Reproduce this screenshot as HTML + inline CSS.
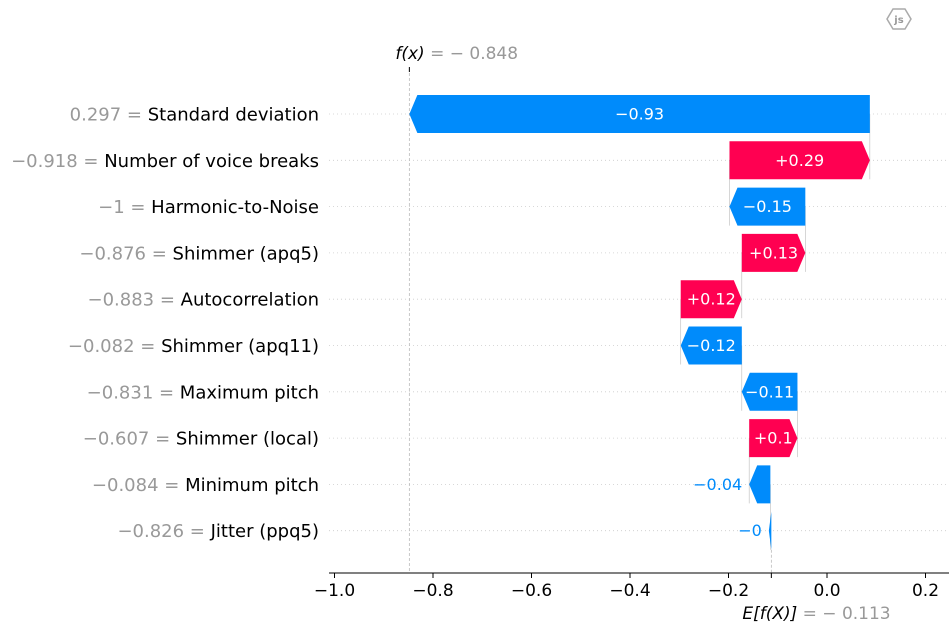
<!DOCTYPE html>
<html><head><meta charset="utf-8"><style>
html,body{margin:0;padding:0;background:#fff;}
svg{display:block;font-family:"DejaVu Sans","Liberation Sans",sans-serif;}
</style></head><body>
<svg id="chart" width="949" height="636" viewBox="0 0 949 636" xmlns="http://www.w3.org/2000/svg">
<g>
<polygon points="893,9 905,9 911,19 905,29 893,29 887,19" fill="none" stroke="#aaa" stroke-width="1.5"/>
<text x="899" y="23" text-anchor="middle" font-size="10" fill="#999" font-weight="bold">js</text>
</g>
<g id="grid"></g>
<g id="connectors"></g>
<g id="bars"></g>
<g id="ylabels"></g>
<g id="xaxis"></g>
</svg>
<script>
const featureNames = ["Standard deviation","Number of voice breaks","Harmonic-to-Noise","Shimmer (apq5)","Autocorrelation","Shimmer (apq11)","Maximum pitch","Shimmer (local)","Minimum pitch","Jitter (ppq5)"];
const featureValues = ["0.297","\u22120.918","\u22121","\u22120.876","\u22120.883","\u22120.082","\u22120.831","\u22120.607","\u22120.084","\u22120.826"];
const shapValues = [-0.935,0.285,-0.154,0.129,0.124,-0.124,-0.113,0.098,-0.043,-0.002];
const valueLabels = ["\u22120.93","+0.29","\u22120.15","+0.13","+0.12","\u22120.12","\u22120.11","+0.1","\u22120.04","\u22120"];
const baseValue = -0.113;
const fxValue = -0.848;
const xTicks = [-1.0,-0.8,-0.6,-0.4,-0.2,0.0,0.2];
const xTickLabels = ["\u22121.0","\u22120.8","\u22120.6","\u22120.4","\u22120.2","0.0","0.2"];

const NS="http://www.w3.org/2000/svg";
const X0=827, SCALE=492.5;
function xs(v){return X0+v*SCALE;}
const ROW0=114, ROWSTEP=46.3, BARH=38;
function ys(i){return ROW0+i*ROWSTEP;}
function mk(tag,attrs,parent){const e=document.createElementNS(NS,tag);for(const k in attrs)e.setAttribute(k,attrs[k]);parent.appendChild(e);return e;}
const BLUE="#008bfb", RED="#ff0051";
const grid=document.getElementById('grid'), conn=document.getElementById('connectors'), bars=document.getElementById('bars'), yl=document.getElementById('ylabels'), xa=document.getElementById('xaxis');
const n=featureNames.length;
const starts=new Array(n), ends=new Array(n);
let cur=baseValue;
for(let i=n-1;i>=0;i--){starts[i]=cur;cur+=shapValues[i];ends[i]=cur;}
for(let i=0;i<n;i++){
  const y=ys(i);
  const gl=mk('line',{x1:329,x2:949,y1:y,y2:y,stroke:'#ccc','stroke-width':0.8,'stroke-dasharray':'1,3'},grid);
  
  
  if(i<n-1){
    const cl=mk('line',{x1:xs(starts[i]),x2:xs(starts[i]),y1:y,y2:ys(i+1)+BARH/2,stroke:'#bbb','stroke-width':0.6},conn);
    
    
  }
  const a=xs(starts[i]);
  let b=xs(ends[i]);
  if(Math.abs(b-a)<2.5) b=a+(shapValues[i]<0?-2.5:2.5);
  const w=Math.abs(b-a), h=Math.min(8,w), t=y-BARH/2, bt=y+BARH/2;
  let pts;
  if(shapValues[i]<0) pts=[[a,t],[b+h,t],[b,y],[b+h,bt],[a,bt]];
  else pts=[[a,t],[b-h,t],[b,y],[b-h,bt],[a,bt]];
  const col=shapValues[i]<0?BLUE:RED;
  const p=mk('polygon',{points:pts.map(q=>q.join(',')).join(' '),fill:col},bars);
  
  
  const inside=w>40;
  let tx;
  if(inside) tx=mk('text',{x:(a+b)/2,y:y+5.5,'text-anchor':'middle','font-size':16,fill:'#fff'},bars);
  else if(shapValues[i]<0) tx=mk('text',{x:Math.min(a,b)-7,y:y+5.5,'text-anchor':'end','font-size':16,fill:col},bars);
  else tx=mk('text',{x:Math.max(a,b)+7,y:y+5.5,'text-anchor':'start','font-size':16,fill:col},bars);
  tx.textContent=valueLabels[i];
  
  
  const lab=mk('text',{x:319,y:y+6.5,'text-anchor':'end','font-size':18},yl);
  const s1=mk('tspan',{fill:'#999'},lab);s1.textContent=featureValues[i]+" = ";
  const s2=mk('tspan',{fill:'#000'},lab);s2.textContent=featureNames[i];
  
  
}
const fx=xs(fxValue), ex=xs(baseValue);
mk('line',{x1:fx,x2:fx,y1:68,y2:573,stroke:'#bbb','stroke-width':0.8,'stroke-dasharray':'3,2'},conn);
mk('line',{x1:fx,x2:fx,y1:67,y2:72,stroke:'#000','stroke-width':1},xa);
mk('line',{x1:ex,x2:ex,y1:ys(n-1)+BARH/2,y2:573,stroke:'#bbb','stroke-width':0.8,'stroke-dasharray':'3,2'},conn);
const fl=mk('text',{x:fx-14,y:59,'font-size':17},xa);
const f1=mk('tspan',{fill:'#000','font-style':'italic'},fl);f1.textContent="f(x)";
const f2=mk('tspan',{fill:'#999'},fl);f2.textContent=" = \u2212 "+Math.abs(fxValue).toFixed(3);


mk('line',{x1:329,x2:949,y1:573,y2:573,stroke:'#000','stroke-width':1},xa);
for(let k=0;k<xTicks.length;k++){
  const x=xs(xTicks[k]);
  mk('line',{x1:x,x2:x,y1:573,y2:578,stroke:'#000','stroke-width':1},xa);
  const t=mk('text',{x:x,y:596,'text-anchor':'middle','font-size':17,fill:'#000'},xa);
  t.textContent=xTickLabels[k];
  
  
}
mk('line',{x1:ex,x2:ex,y1:573,y2:578,stroke:'#000','stroke-width':1},xa);
const el=mk('text',{x:ex-29,y:619,'font-size':17},xa);
const e1=mk('tspan',{fill:'#000','font-style':'italic'},el);e1.textContent="E[f(X)]";
const e2=mk('tspan',{fill:'#999'},el);e2.textContent=" = \u2212 "+Math.abs(baseValue).toFixed(3);


</script>
</body></html>
